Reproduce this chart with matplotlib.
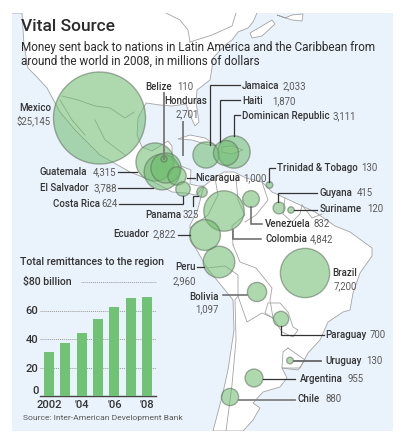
import matplotlib
matplotlib.use("Agg")
import matplotlib.pyplot as plt
from matplotlib.patches import Polygon

W, H = 405, 443
SEA = "#eaf2fc"
BORDER = "#a3a3a3"
DARK = "#333333"
MID = "#5a5a5a"
FONT = "Roboto"

# remittances by country, millions of dollars
countries = ["Mexico", "Guatemala", "El Salvador", "Dominican Republic", "Colombia", "Brazil",
             "Peru", "Ecuador", "Honduras", "Jamaica", "Haiti", "Bolivia", "Nicaragua",
             "Argentina", "Chile", "Venezuela", "Paraguay", "Costa Rica", "Guyana", "Panama",
             "Trinidad & Tobago", "Uruguay", "Suriname", "Belize"]
remit = [25145, 4315, 3788, 3111, 4842, 7200, 2960, 2822, 2701, 2033, 1870, 1097, 1000,
         955, 880, 832, 700, 624, 415, 325, 130, 130, 120, 110]
map_x = [99.5, 155, 162, 234, 224, 305, 219, 205, 166, 206, 226, 257, 177,
         254, 230, 251, 281, 183, 279, 202, 269.5, 290, 291, 164]
map_y = [118, 162, 172, 152, 211, 273, 262, 235, 168, 155, 153, 292, 176,
         378, 397, 199, 319, 189, 208, 192, 185, 360.5, 210, 159]

# total remittances to the region, $ billion
years = ["2002", "", "'04", "", "'06", "", "'08"]
totals = [31, 37, 44, 54, 62.5, 69, 69.5]
y_ticks = [0, 20, 40, 60]

north_america = [(0, 0), (257, 0), (257, 13), (253, 22), (248, 28), (238, 32), (232, 40), (225, 45),
                 (213, 58), (212, 68), (210, 80), (197, 90), (196, 102), (199, 122), (195, 126),
                 (190, 115), (186, 104), (172, 106), (160, 105), (146, 103), (138, 118), (137, 135),
                 (142, 147), (152, 151), (160, 146), (168, 141), (172, 146), (172, 160), (178, 165),
                 (191, 170), (190, 184), (198, 186), (204, 186), (196, 195), (186, 193), (172, 192),
                 (150, 180), (130, 172), (100, 155), (75, 130), (60, 112), (47, 88), (36, 76),
                 (28, 68), (24, 45), (22, 13), (0, 13)]
south_america = [(204, 186), (214, 178), (224, 172), (234, 172), (246, 178), (262, 182), (272, 192),
                 (285, 198), (300, 205), (315, 212), (335, 226), (350, 232), (372, 248), (372, 256),
                 (360, 273), (353, 293), (350, 310), (343, 312), (328, 322), (320, 340), (308, 353),
                 (300, 368), (282, 368), (287, 378), (280, 387), (263, 392), (253, 403), (260, 408),
                 (253, 420), (243, 431), (213, 431), (222, 397), (228, 370), (234, 330), (233, 300),
                 (225, 290), (207, 268), (191, 240), (190, 225), (197, 212)]
cuba = [(178, 139), (190, 135), (205, 138), (217, 146), (205, 144), (192, 140)]
hispaniola = [(222, 147), (232, 146), (243, 150), (232, 154), (222, 152)]
nova_scotia = [(250, 33), (262, 26), (272, 20), (275, 24), (262, 36), (252, 38)]
newfoundland = [(277, 15), (285, 18), (292, 15), (303, 14), (302, 21), (292, 20)]
border_lines = [
    [(166, 13), (180, 20), (188, 30), (190, 42)],
    [(190, 42), (212, 35), (232, 26), (236, 13)],
    [(62, 96), (78, 100), (95, 106), (110, 108), (125, 118), (134, 112)],
    [(60, 100), (72, 120), (85, 135)],
    [(95, 120), (105, 140), (125, 155)],
    [(215, 178), (218, 195), (208, 215), (190, 228)],
    [(236, 178), (238, 200), (245, 215), (232, 226), (233, 245)],
    [(262, 182), (268, 200), (256, 215), (245, 222)],
    [(285, 198), (283, 214), (292, 222), (300, 214), (302, 205)],
    [(302, 205), (312, 218), (322, 214)],
    [(233, 245), (240, 262), (256, 268), (272, 288), (270, 300), (273, 318)],
    [(207, 268), (225, 266), (238, 275), (238, 296), (247, 322), (262, 313), (273, 318)],
    [(238, 296), (235, 300), (236, 340), (232, 385), (226, 431)],
    [(273, 318), (265, 313), (268, 303), (280, 303), (288, 312), (293, 327), (298, 330), (293, 337), (282, 332), (273, 318)],
    [(288, 348), (305, 360), (298, 370), (282, 368), (283, 352), (288, 348)],
]

# leader lines, (path, colour, width)
leaders = [
    ([(164, 93), (164, 159)], "#808080", 1.4),
    ([(183, 122), (183, 155)], "#808080", 1.4),
    ([(240, 85), (210, 85), (210, 145)], DARK, 0.9),
    ([(240, 100), (220, 100), (220, 142)], DARK, 0.9),
    ([(240, 115), (234, 115), (234, 136)], DARK, 0.9),
    ([(118, 172), (137, 172)], DARK, 0.9),
    ([(118, 188), (153, 188)], DARK, 0.9),
    ([(119, 204), (183, 204), (183, 196)], DARK, 0.9),
    ([(193, 206), (193, 196), (198, 196)], DARK, 0.9),
    ([(187, 178), (195, 178)], DARK, 0.9),
    ([(269, 182), (269, 168), (275, 168)], DARK, 0.9),
    ([(317, 193), (278, 193), (278, 202)], DARK, 0.9),
    ([(294, 210), (317, 210)], DARK, 0.9),
    ([(251, 207), (251, 224), (262, 224)], "#666666", 1.1),
    ([(233, 230), (233, 239), (261, 239)], "#666666", 1.1),
    ([(178, 235), (190, 235)], DARK, 0.9),
    ([(197, 267), (204, 267)], DARK, 0.9),
    ([(223, 295), (247, 295)], "#666666", 1.1),
    ([(281, 326), (281, 335), (324, 335)], DARK, 0.9),
    ([(294, 361), (321, 361)], "#666666", 1.3),
    ([(263, 379), (295, 379)], DARK, 0.9),
    ([(239, 400), (295, 400)], "#808080", 1.3),
]

# one-line labels: name, number, x of name, x of number, y
inline_labels = [
    ("Belize", "110", 145, 177, 87), ("Jamaica", "2,033", 242, 283, 86), ("Haiti", "1,870", 242, 272, 101),
    ("Dominican Republic", "3,111", 242, 332, 116), ("Guatemala", "4,315", 40, 93, 172),
    ("El Salvador", "3,788", 40, 93, 188), ("Costa Rica", "624", 53, 101, 204),
    ("Panama", "325", 145, 182, 215), ("Nicaragua", "1,000", 195, 243, 178),
    ("Trinidad & Tobago", "130", 277, 361, 168), ("Guyana", "415", 320, 357, 193),
    ("Suriname", "120", 320, 367, 209), ("Venezuela", "832", 265, 314, 224),
    ("Colombia", "4,842", 265, 310, 239), ("Ecuador", "2,822", 113, 153, 234),
    ("Paraguay", "700", 325, 370, 335), ("Uruguay", "130", 325, 366, 361),
    ("Argentina", "955", 300, 348, 379), ("Chile", "880", 298, 325, 399),
]
# two-line labels: name, number, right edge of name, right edge of number, y of name, y of number
stacked_labels = [
    ("Mexico", "$25,145", 51, 51, 108, 121), ("Honduras", "2,701", 207, 199, 101, 114),
    ("Peru", "2,960", 196, 196, 267, 281), ("Brazil", "7,200", 357, 357, 273, 286),
    ("Bolivia", "1,097", 219, 219, 297, 309),
]

fig = plt.figure(figsize=(W / 100, H / 100), dpi=100)
fig.patch.set_facecolor("white")
ax = fig.add_axes([0, 0, 1, 1])
ax.set_xlim(0, W)
ax.set_ylim(H, 0)
ax.axis("off")

# map
ax.fill([12, 393, 393, 12], [13, 13, 431, 431], color=SEA, zorder=0, lw=0)
for shape in [north_america, south_america, cuba, hispaniola, nova_scotia, newfoundland]:
    ax.add_patch(Polygon(shape, closed=True, fc="white", ec=BORDER, lw=0.6, zorder=1))
for line in border_lines:
    ax.plot(*zip(*line), color=BORDER, lw=0.6, zorder=2)
# frame of plain white round the sea
ax.fill([0, W, W, 0], [0, 0, 13, 13], color="white", zorder=2.5, lw=0)
ax.fill([393, W, W, 393], [0, 0, H, H], color="white", zorder=2.5, lw=0)
ax.fill([0, 12, 12, 0], [0, 0, H, H], color="white", zorder=2.5, lw=0)
ax.fill([0, W, W, 0], [431, 431, H, H], color="white", zorder=2.5, lw=0)

# bubble area proportional to remittances
ax.scatter(map_x, map_y, s=[v * 0.1745 for v in remit], facecolor="#6cba6c", alpha=0.55,
           edgecolor="#5f6f5f", linewidth=1.0, zorder=3)

for path, color, lw in leaders:
    ax.plot(*zip(*path), color=color, lw=lw, zorder=4, solid_joinstyle="miter")

# titles
ax.text(21, 26, "Vital Source", fontsize=12.5, fontfamily=FONT, fontweight="medium",
        color="#2b2b2b", va="center", zorder=6)
ax.text(21, 47, "Money sent back to nations in Latin America and the Caribbean from",
        fontsize=8.45, fontfamily=FONT, color="#2b2b2b", va="center", zorder=6)
ax.text(21, 61, "around the world in 2008, in millions of dollars",
        fontsize=8.45, fontfamily=FONT, color="#2b2b2b", va="center", zorder=6)

for name, num, xn, xv, y in inline_labels:
    ax.text(xn, y, name, fontsize=7.0, fontfamily=FONT, fontweight="medium", color=DARK, va="center", zorder=6)
    ax.text(xv, y, num, fontsize=6.9, fontfamily=FONT, color=MID, va="center", zorder=6)
for name, num, xr, xv, yn, yv in stacked_labels:
    ax.text(xr, yn, name, fontsize=7.0, fontfamily=FONT, fontweight="medium", color=DARK, va="center", ha="right", zorder=6)
    ax.text(xv, yv, num, fontsize=6.9, fontfamily=FONT, color=MID, va="center", ha="right", zorder=6)

ax.text(20, 262, "Total remittances to the region", fontsize=7.6, fontfamily=FONT, fontweight="medium",
        color=DARK, va="center", zorder=6)
ax.text(23, 282, "$80 billion", fontsize=7.6, fontfamily=FONT, fontweight="medium", color=DARK, va="center", zorder=6)
ax.text(23, 418, "Source: Inter-American Development Bank", fontsize=6.1, fontfamily=FONT, color=MID,
        va="center", zorder=6)

# bar inset, axis spans 40..156 px across and 396..282 px up
bar_ax = fig.add_axes([40 / W, 1 - 396 / H, 116 / W, 114 / H])
bar_ax.patch.set_alpha(0)
bar_ax.bar(range(len(totals)), totals, width=0.63, color="#70c274", zorder=3)
bar_ax.set_xlim(-0.55, 6.55)
bar_ax.set_ylim(0, 80)
for spine in ["top", "right", "left"]:
    bar_ax.spines[spine].set_visible(False)
bar_ax.spines["bottom"].set_color("#444444")
bar_ax.spines["bottom"].set_linewidth(1.0)
bar_ax.set_xticks(range(len(years)))
bar_ax.set_xticklabels(years, fontsize=8, fontfamily=FONT, fontweight="medium", color=DARK)
bar_ax.set_yticks(y_ticks)
bar_ax.set_yticklabels([str(t) for t in y_ticks], fontsize=8, fontfamily=FONT, fontweight="medium", color=DARK)
bar_ax.tick_params(axis="y", length=0, pad=1)
bar_ax.tick_params(axis="x", length=0, pad=3)
bar_ax.get_yticklabels()[0].set_va("bottom")
bar_ax.yaxis.grid(True, color="#9a9a9a", lw=0.7, ls=(0, (1, 1)), zorder=1)
bar_ax.hlines(80, 1.95, 6.55, color="#9a9a9a", lw=0.7, ls=(0, (1, 1)), clip_on=False)
bar_ax.set_axisbelow(True)

fig.savefig("out.png", dpi=100)
